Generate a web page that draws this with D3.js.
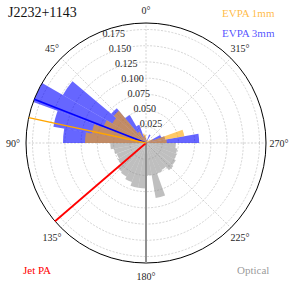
<!DOCTYPE html>
<html>
<head>
<meta charset="utf-8">
<script src="https://cdn.jsdelivr.net/npm/d3@7"></script>
<style>
  html, body { margin: 0; padding: 0; background: #fff; }
  svg { display: block; }
</style>
</head>
<body>
<svg id="chart" width="294" height="286"></svg>
<script>
// ---- data ----
const title = "J2232+1143";
const binStartDeg = [0,10,20,30,40,50,60,70,80,90,100,110,120,130,140,150,160,170,
                     180,190,200,210,220,230,240,250,260,270,280,290,300,310,320,330,340,350];
const evpa3mm = [0.008,0.012,0.030,0.050,0.070,0.148,0.185,0.145,0.128,0,0,0,0,0,0,0,0,0,
                 0,0,0,0,0,0,0,0,0,0.082,0.030,0.025,0,0,0,0.014,0.005,0.005];
const evpa1mm = [0.012,0.015,0.010,0.020,0.065,0.060,0.070,0.085,0.094,0,0,0,0,0,0,0,0,0,
                 0,0,0,0,0,0,0,0,0,0.032,0.060,0.012,0.008,0.005,0.005,0.005,0.005,0.005];
const optical = [0,0,0,0,0,0,0,0,0,0.055,0.050,0.048,0.050,0.058,0.060,0.064,0.070,0.070,
                 0.050,0.086,0.050,0.048,0.055,0.053,0.050,0.049,0.046,0,0,0,0,0,0,0,0,0];
const meanAngles = { evpa3mm: 68.6, evpa1mm: 77.8, jet: 130.7, optical: 180 };
const rTicks = [0.025,0.050,0.075,0.100,0.125,0.150,0.175];
const rTickLabels = ["0.025","0.050","0.075","0.100","0.125","0.150","0.175"];
const thetaTicks = [0,45,90,135,180,225,270,315];
const binWidth = 10;
const rMax = 0.185;

const FONT = "'Liberation Serif', 'Times New Roman', serif";

// ---- layout ----
const svg = d3.select("#chart");
const cx = 146, cy = 143, R = 120;
const g = svg.append("g").attr("transform", `translate(${cx},${cy})`);
const r = d3.scaleLinear().domain([0, rMax]).range([0, R]);
const rad = d => d * Math.PI / 180;
// angle measured counter-clockwise from top
const px = (deg, rr) => -rr * Math.sin(rad(deg));
const py = (deg, rr) => -rr * Math.cos(rad(deg));

// grid circles
g.selectAll("circle.grid").data(rTicks).join("circle")
  .attr("r", d => r(d)).attr("fill", "none")
  .attr("stroke", "#c8c8c8").attr("stroke-width", 0.8).attr("stroke-dasharray", "2,1.5");
// radial grid lines
g.selectAll("line.grid").data(thetaTicks).join("line")
  .attr("x1", 0).attr("y1", 0)
  .attr("x2", d => px(d, R)).attr("y2", d => py(d, R))
  .attr("stroke", "#c8c8c8").attr("stroke-width", 0.8).attr("stroke-dasharray", "2,1.5");

const arc = d3.arc().innerRadius(0);
function drawBars(values, color, opacity) {
  g.append("g").selectAll("path").data(binStartDeg.map((b, i) => ({ b, v: values[i] })).filter(d => d.v > 0))
    .join("path")
    .attr("d", d => arc({ outerRadius: r(d.v), startAngle: -rad(d.b + binWidth), endAngle: -rad(d.b) }))
    .attr("fill", color).attr("fill-opacity", opacity);
}
drawBars(optical, "#808080", 0.5);
drawBars(evpa3mm, "#0000ff", 0.6);
drawBars(evpa1mm, "#ffa500", 0.6);

// outer circle
g.append("circle").attr("r", R).attr("fill", "none").attr("stroke", "#000").attr("stroke-width", 1);

// mean / reference lines
const lines = [
  { a: meanAngles.optical, c: "#909090", w: 2 },
  { a: meanAngles.jet, c: "#ff0000", w: 1.8 },
  { a: meanAngles.evpa3mm, c: "#0000ff", w: 1.8 },
  { a: meanAngles.evpa1mm, c: "#ffa500", w: 1.5 }
];
g.selectAll("line.mean").data(lines).join("line")
  .attr("x1", 0).attr("y1", 0)
  .attr("x2", d => px(d.a, R)).attr("y2", d => py(d.a, R))
  .attr("stroke", d => d.c).attr("stroke-width", d => d.w);

// radial tick labels at 22.5 deg
g.selectAll("text.rt").data(rTicks).join("text")
  .attr("x", d => px(22.5, r(d)))
  .attr("y", d => py(22.5, r(d)) - 1)
  .attr("font-family", FONT)
  .attr("font-size", 10).attr("fill", "#262626")
  .text((d, i) => rTickLabels[i]);

// theta labels
g.selectAll("text.tt").data(thetaTicks).join("text")
  .attr("x", d => px(d, R + 13)).attr("y", d => py(d, R + 13))
  .attr("text-anchor", "middle").attr("dominant-baseline", "central")
  .attr("font-family", FONT)
  .attr("font-size", 10).attr("fill", "#262626")
  .text(d => d + "°");

// annotations
const ann = [
  { t: title, x: 8, y: 16.5, s: 14, c: "#111", o: 1 },
  { t: "EVPA 1mm", x: 222, y: 16.5, s: 11, c: "#ffa500", o: 0.75 },
  { t: "EVPA 3mm", x: 222, y: 37, s: 11, c: "#0000ff", o: 0.7 },
  { t: "Jet PA", x: 23, y: 274, s: 11, c: "#ff0000", o: 1 },
  { t: "Optical", x: 237, y: 273.5, s: 11, c: "#808080", o: 0.8 }
];
svg.selectAll("text.ann").data(ann).join("text")
  .attr("x", d => d.x).attr("y", d => d.y)
  .attr("font-family", FONT).attr("font-size", d => d.s)
  .attr("fill", d => d.c).attr("fill-opacity", d => d.o)
  .text(d => d.t);
</script>
</body>
</html>
